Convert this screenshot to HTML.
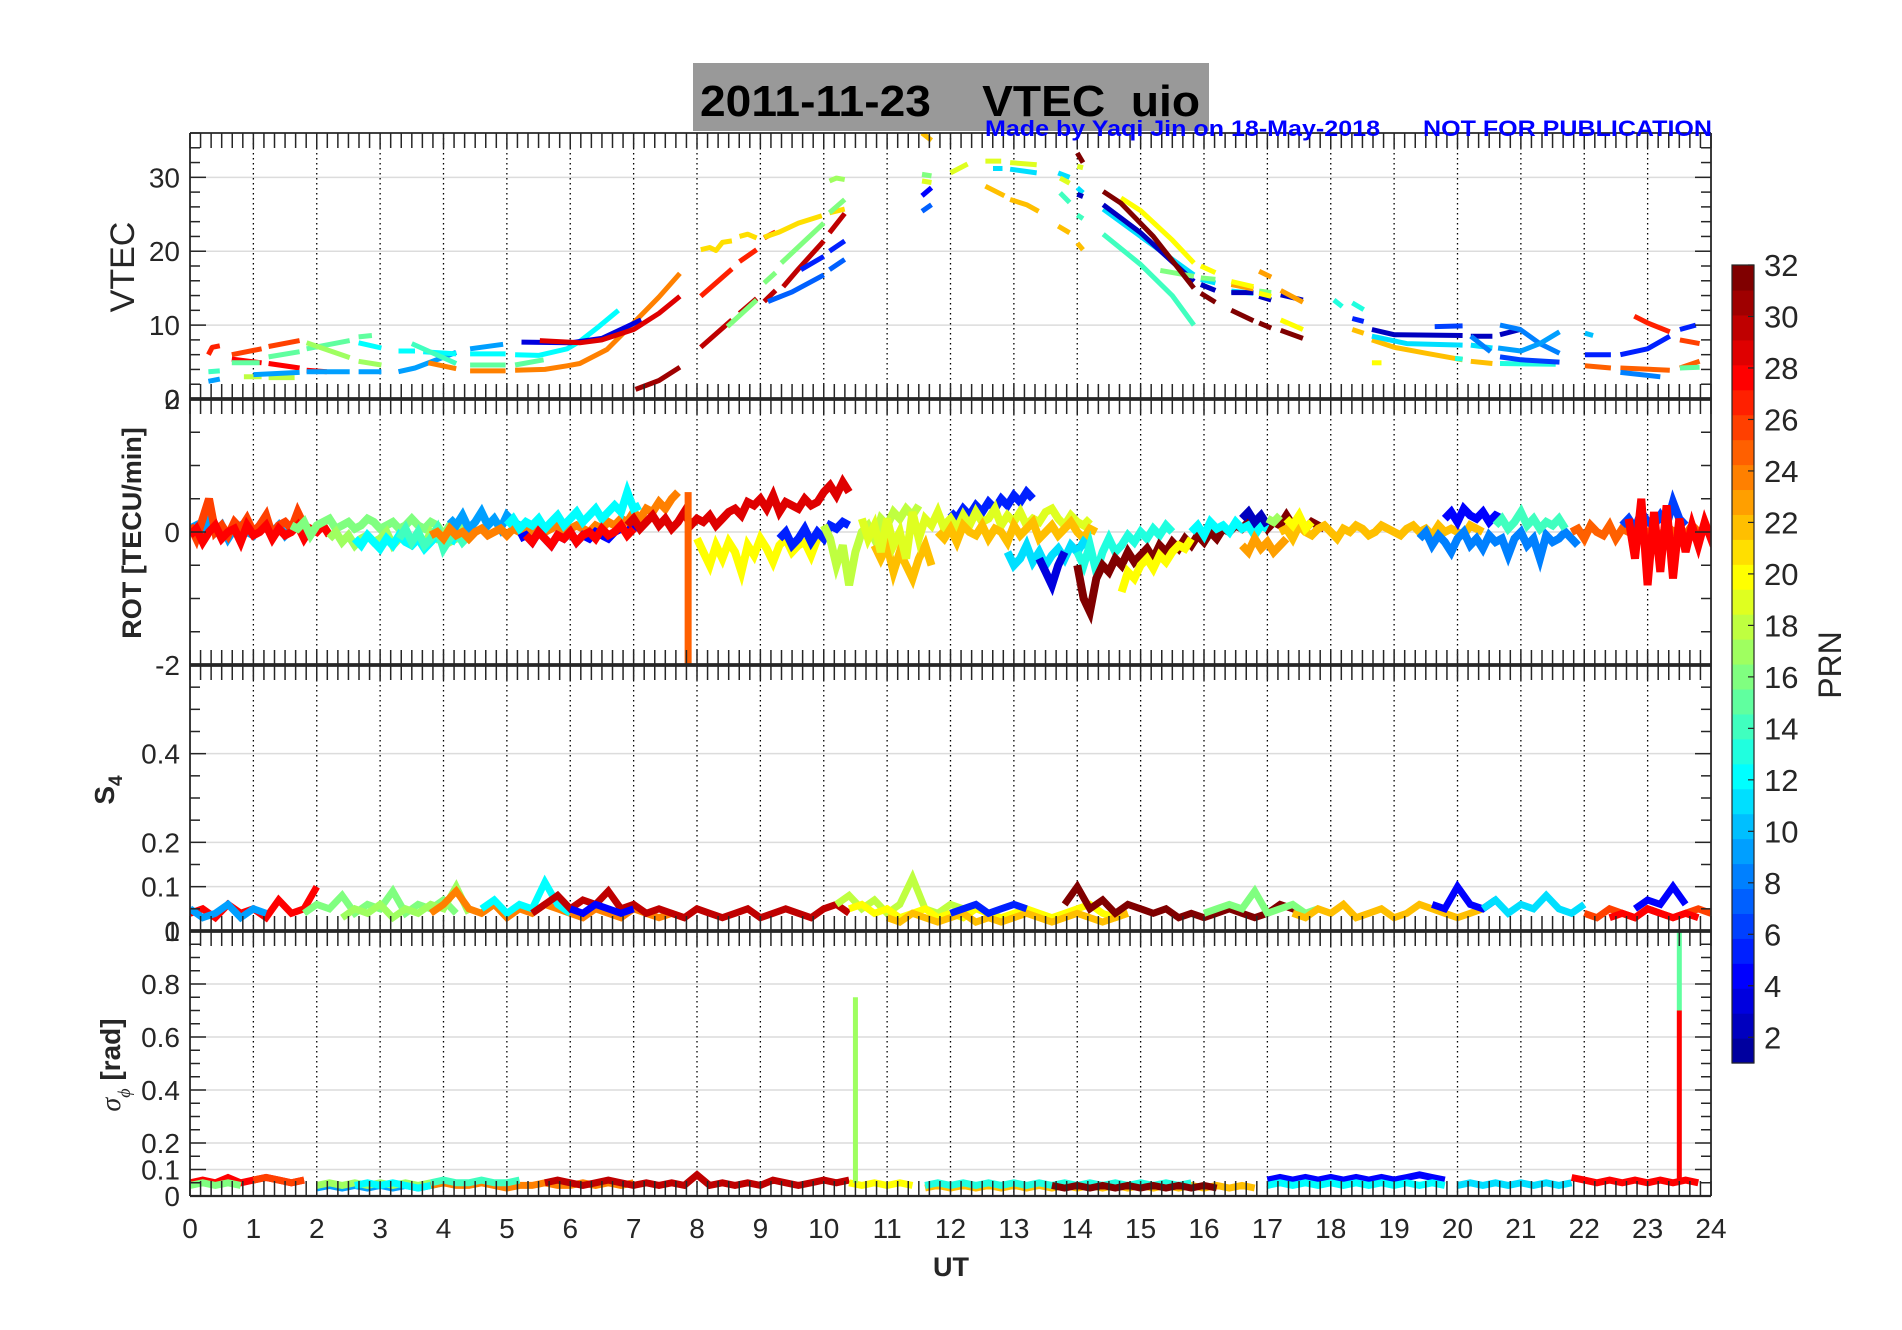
<!DOCTYPE html>
<html><head><meta charset="utf-8"><style>
html,body{margin:0;padding:0;background:#fff;}
svg{display:block;font-family:"Liberation Sans",Arial,sans-serif;}
</style></head><body>
<svg id="fig" width="1902" height="1330" viewBox="0 0 1902 1330" xmlns="http://www.w3.org/2000/svg">
<rect x="0" y="0" width="1902" height="1330" fill="#fff"/>
<g id="grid"></g>
<g id="marks"></g>
<g id="axes"></g>
<g id="labels"></g>
<rect x="693" y="63" width="516" height="68" fill="#999999"/>
<text x="700" y="116" font-size="44" font-weight="bold" fill="#000" textLength="500" lengthAdjust="spacingAndGlyphs" xml:space="preserve">2011-11-23    VTEC  uio</text>
<text x="985" y="136" font-size="22" font-weight="bold" fill="#0000ff" textLength="395" lengthAdjust="spacingAndGlyphs">Made by Yaqi Jin on 18-May-2018</text>
<text x="1423" y="136" font-size="22" font-weight="bold" fill="#0000ff" textLength="289" lengthAdjust="spacingAndGlyphs">NOT FOR PUBLICATION</text>
<g id="cbar"></g>
</svg>
<script>
// ---------- data ----------
const hourTicks = [0,1,2,3,4,5,6,7,8,9,10,11,12,13,14,15,16,17,18,19,20,21,22,23,24];
const cbarTicks = [2,4,6,8,10,12,14,16,18,20,22,24,26,28,30,32];

const vtecPrn = [27,26,26,28,28,28,15,15,15,15,17,17,18,18,9,14,9,9,9,9,9,12,12,12,12,12,14,24,24,24,15,15,3,29,31,27,27,27,30,30,30,30,30,21,21,21,21,16,16,16,16,17,5,5,7,7,22,16,19,4,7,19,19,19,11,11,11,11,22,22,22,22,14,14,19,19,32,2,14,11,11,11,2,2,2,2,2,16,16,16,16,23,23,23,20,20,20,20,20,32,32,32,32,32,13,13,5,22,22,22,20,11,11,2,2,2,6,13,13,8,8,9,6,10,5,5,5,27,26,25,25,25,8,15];
const vtecHours = [
[0.29,0.35,0.47],[0.66,1.13],[1.24,1.73],[0.66,1.13],[1.24,1.73],[1.84,2.16],[0.66,1.1],[1.24,1.73],[1.84,2.52],[2.66,2.87],
[1.84,2.52],[2.66,3.02],[0.85,1.13],[1.24,1.65],[0.29,0.47],[0.29,0.47],[1.0,1.73],[1.84,2.52],[2.66,3.02],[3.29,3.55,4.2],
[4.42,4.94],[2.66,3.02],[3.29,3.55],[3.68,4.2],[4.42,4.98],[5.13,5.5,5.95,6.15,6.45,6.76],[3.5,4.2],[3.76,4.2],[4.42,4.98],[5.13,5.6,5.95,6.15,6.58,7.0,7.4,7.73],
[4.42,4.98],[5.13,5.58],[5.23,6.0,6.5,7.12],[5.52,6.15,6.5,7.0,7.4,7.73],[7.03,7.4,7.73],[8.06,8.55],[8.67,8.94],[9.06,9.24],[8.06,8.55],[8.67,8.94],
[9.06,9.24],[9.36,9.6,10.0],[10.09,10.33],[8.06,8.2,8.3,8.4,8.55],[8.67,8.8,8.94],[9.06,9.3,9.6,9.97],[10.09,10.33],[8.48,8.94],[9.06,9.24],[9.33,10.0],
[10.09,10.33],[10.09,10.2,10.33],[9.64,10.0],[10.09,10.33],[9.12,9.5,10.0],[10.09,10.33],[11.55,11.7],[11.55,11.7],[11.55,11.7],[11.55,11.7],
[11.55,11.7],[12.0,12.27],[12.55,12.8],[12.94,13.36],[12.67,12.82],[12.94,13.36],[13.7,13.88],[14.0,14.09],[12.55,12.85],[12.94,13.2,13.39],
[13.7,13.88],[14.0,14.09],[13.73,13.88],[14.0,14.09],[13.73,13.88],[14.0,14.09],[14.0,14.09],[14.0,14.09],[14.41,15.0,15.5,15.84],[14.41,15.0,15.84],
[15.95,16.18],[16.43,16.78],[14.41,15.0,15.84],[15.95,16.18],[16.43,16.78],[16.87,17.06],[17.21,17.56],[15.31,15.84],[15.95,16.18],[16.43,16.78],
[16.87,17.06],[16.43,16.78],[16.87,17.06],[17.21,17.56],[14.69,15.0,15.5,15.84],[15.95,16.18],[16.43,16.78],[16.87,17.06],[17.21,17.56],[14.41,14.69,15.2,15.84],
[15.95,16.18],[16.43,16.78],[16.87,17.06],[17.21,17.56],[18.05,18.18],[18.34,18.52],[18.34,18.52],[18.34,18.52],[18.65,19.0,19.5,20.08],[20.21,20.55],
[18.65,18.8],[18.65,19.2,20.08],[20.21,20.55],[18.65,19.0,20.08],[20.21,20.55],[20.67,20.99],[19.64,20.08],[19.96,20.08],[20.67,21.55],[20.21,20.52],
[20.67,20.99,21.3,21.61],[20.64,21.0,21.3,21.61],[20.67,21.0,21.61],[22.01,22.14],[22.01,22.42],[22.57,23.0,23.35],[23.51,23.76],[22.79,23.0,23.35],[23.51,23.82],[22.01,22.42],
[22.57,23.35],[23.51,23.82],[22.57,23.2],[23.51,23.82]];
const vtecValues = [
[6,7,7.2],[6.0,6.8],[7.1,7.9],[5.4,4.9],[4.8,4.2],[3.9,3.7],[4.9,4.9],[5.7,6.4],[6.8,7.9],[8.4,8.6],
[7.6,5.6],[5.1,4.6],[3,3],[2.9,2.9],[2.4,2.7],[3.7,3.8],[3.3,3.6],[3.7,3.7],[3.7,3.7],[3.7,4.2,6.3],
[6.8,7.4],[7.6,6.9],[6.5,6.5],[6.4,6.1],[6.1,6.1],[6,5.9,6.8,7.8,9.8,12],[7.5,4.8],[4.9,4.1],[3.8,3.8],[3.9,4.0,4.5,4.8,6.7,10.3,13.8,17],
[4.6,4.6],[4.6,5.3],[7.7,7.6,8.2,10.7],[7.9,7.6,8.0,9.4,11.6,13.9],[1.3,2.5,4.3],[13.9,17.6],[18.6,20.2],[21.8,22.6],[7.0,10.7],[11.6,13.6],
[13.2,14.7],[15.2,17.6,21.4],[22.5,25.1],[20.2,20.5,20.1,21.2,21.4],[22.0,22.3,21.8],[21.9,22.6,23.8,24.8],[25.2,25.7],[9.8,13.4],[15.7,17.1],[18.4,23.8],
[25.2,27],[29.5,29.9,29.7],[17.5,19.3],[20,21.4],[13.2,14.5,16.8],[17.5,18.9],[36,35],[30.4,30.2],[29.5,29.3],[27.5,28.6],
[25.4,26.3],[30.6,31.8],[32.2,32.2],[32,31.7],[31.2,31.2],[31.1,30.6],[30.6,30],[28.6,27.9],[28.8,27.5],[27,26.3,25.4],
[23.4,22.5],[21.1,20.2],[27.9,26.6],[24.9,24.4],[29.9,29.2],[31.5,31.3],[33.3,32],[27.7,27.4],[22.3,18.2,14.0,10],[25.7,22.0,16.8],
[16.2,15.7],[14.6,14.3],[26.3,22.5,15.9],[15.5,14.7],[14.4,14.4],[13.9,13.4],[14.1,13.4],[17.4,16.6],[16.4,16.2],[15.5,15.2],
[14.6,14.4],[15.5,14.9],[17.3,16.5],[14.7,13.1],[27.2,25.5,21.5,18.4],[18,17.1],[15.9,15.2],[14.3,13.9],[10.7,9.4],[28.1,26.5,22,15],
[14.3,13.1],[12,10.6],[10.3,9.6],[9.3,8.2],[13.4,12.5],[13.0,12.1],[10.9,10.5],[9.4,8.9],[8.0,7.0,6.2,5.3],[5.1,4.8],
[4.9,4.9],[8.5,7.5,7.3],[7.3,6.9],[9.4,8.7,8.6],[8.5,8.5],[8.7,9.4],[9.8,9.9],[5.5,5.4],[4.8,4.7],[8.5,6.4],
[10.0,9.4,7.5,6.2],[6.9,6.5,7.5,9.1],[5.7,5.3,5.0],[8.9,8.6],[6,6],[6,6.8,8.5],[9.4,10],[11.2,10.3,9.1],[8,7.5],[4.5,4.2],
[4.2,3.9],[4.2,5.1],[3.6,3.0],[4.2,4.3]];

// ROT tracks (sample spacing rotStep hours)
const rotStep = 0.1;
const rotPrn = [9,26,28,16,17,12,14,9,24,12,4,28,29,20,5,18,22,19,5,19,22,11,3,13,32,20,12,2,23,17,22,20,4,8,14,25,6,28];
const rotStart = [0,0,0,1.6,2.2,2.6,3.3,4.1,3.8,5.0,5.2,5.3,6.9,8.0,9.3,10.0,10.8,10.6,12.0,11.9,11.8,12.9,13.4,14.0,14.0,14.7,15.8,16.6,16.6,17.0,17.2,17.3,19.8,19.4,20.6,21.8,22.6,22.7];
const rotValues = [
[0.05,0.1,-0.05,0.15,0,0.1,-0.1,0.05,0.1,0,-0.05,0.1,0.05,0,0.1,-0.05,0.05,0.1,0],
[0.1,-0.1,0.2,0.5,0,0.1,-0.05,0.15,0.05,0.2,0,0.1,0.25,-0.05,0.1,0.15,0.05,0.3,0.1],
[-0.05,0.05,-0.15,0,0.1,-0.1,0,0.05,-0.15,0.1,-0.05,0,0.1,-0.1,0.05,-0.05,0,0.1,-0.1,0.05,0,0.1,-0.05],
[0.1,0.05,0.15,-0.05,0.1,0.15,0.2,0.05,0.1,0.15,0.05,0.1,0.2,0.15,0.05,0.1,0.15,0.05,0.1,0.2,0.1,0.05,0.15,0.1,-0.05,0.1,0.05,0.15,0,0.1],
[-0.1,0,-0.15,-0.05,-0.2,-0.1,-0.05,-0.15,-0.1,0,-0.2,-0.1,-0.05,-0.15,-0.1,-0.2,0,-0.1,-0.05,-0.15,-0.1,0,-0.1],
[-0.1,-0.2,-0.05,-0.15,-0.25,-0.1,-0.2,-0.05,-0.15,-0.2,-0.1,-0.25,-0.15,-0.05,-0.2,-0.1,-0.15],
[-0.1,0.05,-0.15,0,-0.2,-0.1,0.05,-0.25,-0.1,0,-0.15,-0.05],
[0.2,0.1,0.25,0.05,0.15,0.3,0.1,0.2,0.05,0.25,0.15,0.1],
[-0.05,0,-0.1,0.05,-0.05,0,-0.1,0,0.05,-0.05,0,0.05,-0.05,0.05,0,0.1,-0.05,0.05,0,0.05,0.1,0,0.05,0.1,0.05,0,0.1,0.05,0.15,0.1,0.2,0.15,0.3,0.2,0.35,0.3,0.45,0.35,0.5,0.6],
[0.1,0.2,0.05,0.15,0.1,0.2,0.05,0.15,0.25,0.1,0.2,0.3,0.15,0.25,0.35,0.2,0.3,0.4,0.3,0.6,0.35,0.4],
[-0.1,-0.05,-0.15,0,-0.1,-0.2,-0.05,-0.1,0,-0.15,-0.05,-0.1,0,-0.05,-0.1,0,0.05,0,0.1,0.05],
[-0.05,-0.15,0,-0.1,-0.2,-0.05,-0.1,0,-0.15,-0.05,0,-0.1,0.05,-0.05,0,0.1,-0.05,0.05],
[0.1,0.2,0.05,0.15,0.25,0.1,0.2,0.05,0.15,0.3,0.1,0.2,0.15,0.25,0.1,0.2,0.3,0.35,0.25,0.45,0.4,0.5,0.35,0.55,0.3,0.45,0.4,0.35,0.5,0.4,0.45,0.6,0.7,0.55,0.75,0.6],
[-0.1,-0.3,-0.5,-0.2,-0.4,-0.15,-0.3,-0.6,-0.2,-0.35,-0.1,-0.25,-0.45,-0.2,-0.1,-0.3,-0.2,-0.15,-0.35,-0.1],
[-0.1,0,-0.2,-0.1,0.05,-0.15,0,-0.1,0.1,0.05,0.15,0.1],
[0.1,-0.1,-0.5,-0.2,-0.8,-0.3,0,0.1,-0.1,0.2,0.1,0.3,0.2,0.35,0.25,0.4],
[-0.2,-0.4,-0.2,-0.6,-0.3,-0.5,-0.7,-0.4,-0.2,-0.5],
[0.2,-0.1,0.1,-0.3,0.2,-0.2,0,-0.4,0.3,-0.1,0.2,0.1,0.3,0.05,0.2],
[0.3,0.2,0.35,0.25,0.4,0.3,0.45,0.35,0.5,0.4,0.55,0.45,0.6,0.5],
[0.1,0.2,0.05,0.25,0.1,0.3,0.15,0.2,0.35,0.1,0.25,0.15,0.3,0.1,0.2,0.15,0.3,0.35,0.2,0.1,0.25,0.15,0.1,0.2],
[0,-0.1,0.05,-0.15,0.1,0,-0.05,0.1,-0.1,0.05,0,-0.15,0.1,-0.05,0.05,0.15,-0.1,0,0.1,-0.05,0.05,0.15,0,-0.1,0.05,0],
[-0.3,-0.5,-0.4,-0.2,-0.45,-0.3,-0.5,-0.35,-0.25,-0.4,-0.2,-0.3,-0.15,-0.25],
[-0.4,-0.6,-0.8,-0.5,-0.3],
[-0.3,-0.5,-0.2,-0.6,-0.3,-0.1,-0.3,-0.2,-0.05,-0.15,0,-0.1,0.05,-0.05,0.1,0],
[-0.5,-1.0,-1.2,-0.7,-0.5,-0.6,-0.4,-0.5,-0.3,-0.45,-0.35,-0.25,-0.4,-0.2,-0.3,-0.15,-0.25,-0.1,-0.2,-0.05,-0.15,0,-0.1,0.05,0,0.1,0.05,0.15,0.1,0.2,0.05,0.15,0.1,0.25,0.1,0.2,0.05,0.15,0.1,0.05],
[-0.9,-0.6,-0.7,-0.5,-0.4,-0.55,-0.35,-0.45,-0.3,-0.2,-0.25,-0.1],
[0,0.1,-0.05,0.15,0.05,0.1,0,0.15,0.05,0.1,-0.05,0.1,0.05],
[0.2,0.3,0.15,0.25,0.1],
[-0.2,-0.3,-0.1,-0.25,-0.15,-0.3,-0.2,-0.1],
[0.2,0.15,0.25],
[0,0.05,-0.1,0.1,0,-0.05,0.05,0.1,0,-0.1,0.05,0,0.1,0.05,-0.05,0,0.1,0.05,0,-0.05,0.05,0.1,0,0.05,-0.05,0.1,0,0.05,0,-0.05,0.1,0.05,0],
[0.2,0.1,0.25,0.05,0.15],
[0.2,0.3,0.15,0.35,0.25,0.2,0.3,0.15,0.25,0.2],
[-0.1,0,-0.2,-0.05,-0.15,-0.3,-0.1,0,-0.2,-0.1,-0.25,-0.05,-0.15,-0.1,-0.35,-0.1,0,-0.2,-0.1,-0.4,-0.05,-0.15,-0.1,0,-0.1,-0.2],
[0.1,0.2,0.05,0.15,0.3,0.1,0.2,0.05,0.15,0.1,0.2,0.05],
[0,0.05,-0.1,0.1,0,-0.05,0.1,-0.1,0.05,0,0.1,-0.05,0,0.05,-0.1,0.1,0,0.05,-0.05,0.1,0,0.05,-0.05],
[0.1,0.2,0.05,0.3,0.15,0.1,0.25,0.1,0.45,0.2,0.1],
[0.2,-0.4,0.5,-0.8,0.3,-0.6,0.4,-0.7,0.2,-0.3,0.1,-0.2,0.15,-0.1,0.05,0.1,-0.1,0.05]];
const rotSpikePrn = [25];
const rotSpikeHour = [7.86];
const rotSpikeFrom = [0.6];
const rotSpikeTo = [-2.1];

// S4 tracks
const s4Step = 0.2;
const s4Prn = [28,9,16,17,24,12,30,4,18,20,22,5,32,16,22,4,11,26,4,28];
const s4Start = [0,0,1.8,2.4,3.8,4.6,5.4,6.0,10.2,10.4,11.0,12.0,13.8,16.0,17.4,19.6,20.4,22.0,22.8,22.4];
const s4Values = [
[0.04,0.05,0.03,0.06,0.04,0.05,0.03,0.07,0.04,0.05,0.1],
[0.05,0.03,0.04,0.06,0.03,0.05,0.04],
[0.04,0.06,0.05,0.08,0.04,0.06,0.05,0.09,0.04,0.06,0.05,0.07,0.04],
[0.03,0.05,0.04,0.06,0.03,0.05,0.04,0.06,0.05,0.1,0.04],
[0.04,0.06,0.09,0.05,0.04,0.06,0.03,0.05,0.04,0.06,0.05,0.04,0.03,0.05,0.04,0.03,0.05,0.04,0.03,0.04,0.03],
[0.05,0.07,0.04,0.06,0.05,0.11,0.06,0.04],
[0.04,0.06,0.08,0.05,0.07,0.06,0.09,0.05,0.06,0.04,0.05,0.04,0.03,0.05,0.04,0.03,0.04,0.05,0.03,0.04,0.05,0.04,0.03,0.05,0.06,0.04],
[0.05,0.04,0.06,0.05,0.04,0.05],
[0.06,0.08,0.05,0.07,0.04,0.06,0.12,0.05,0.04,0.06,0.05],
[0.05,0.06,0.04,0.05,0.03,0.04,0.05,0.03,0.04,0.03,0.05,0.04,0.03,0.04,0.05,0.04,0.03,0.04,0.05,0.06,0.04,0.03,0.04],
[0.03,0.02,0.04,0.03,0.02,0.03,0.04,0.02,0.03,0.02,0.03,0.04,0.03,0.02,0.03,0.04,0.03,0.02,0.03,0.04],
[0.04,0.05,0.06,0.04,0.05,0.06,0.05],
[0.06,0.1,0.05,0.07,0.04,0.06,0.05,0.04,0.05,0.03,0.04,0.03,0.04,0.05,0.04,0.03,0.04,0.06,0.05,0.04],
[0.04,0.05,0.06,0.05,0.09,0.04,0.05,0.06,0.04,0.05],
[0.04,0.03,0.05,0.04,0.06,0.03,0.04,0.05,0.03,0.04,0.06,0.05,0.04,0.03,0.04,0.05],
[0.06,0.05,0.1,0.06,0.05,0.07],
[0.05,0.07,0.04,0.06,0.05,0.08,0.05,0.04,0.06],
[0.04,0.03,0.05,0.04,0.03,0.05,0.04,0.03,0.04,0.05,0.04],
[0.05,0.07,0.06,0.1,0.06],
[0.03,0.04,0.03,0.05,0.04,0.03,0.04,0.03]];

// sigma-phi tracks
const sigStep = 0.2;
const sigPrn = [28,16,26,9,17,12,24,14,30,20,22,13,32,4,12,11,28];
const sigStart = [0,0,1.0,2.0,2.0,2.6,3.8,3.8,5.6,10.4,11.6,11.6,13.6,17.0,17.0,20.0,21.8];
const sigValues = [
[0.05,0.06,0.05,0.07,0.05,0.06,0.07,0.06,0.05,0.06],
[0.04,0.05,0.04,0.05,0.04],
[0.06,0.07,0.06,0.05,0.06],
[0.03,0.04,0.03,0.04,0.03,0.04,0.03,0.04,0.03,0.04],
[0.04,0.05,0.04,0.05,0.04,0.05,0.04,0.05,0.04,0.05],
[0.04,0.05,0.04,0.05,0.04,0.03,0.04,0.05],
[0.04,0.05,0.04,0.04,0.05,0.04,0.03,0.04,0.04,0.05,0.04,0.04,0.05,0.04,0.05,0.04,0.05],
[0.05,0.06,0.05,0.05,0.06,0.05,0.05,0.06],
[0.05,0.06,0.05,0.04,0.05,0.06,0.05,0.04,0.05,0.04,0.05,0.04,0.08,0.04,0.05,0.04,0.05,0.04,0.06,0.05,0.04,0.05,0.06,0.05,0.06],
[0.05,0.04,0.05,0.04,0.05,0.04],
[0.03,0.04,0.03,0.04,0.03,0.04,0.03,0.04,0.03,0.04,0.03,0.04,0.03,0.04,0.03,0.04,0.03,0.04,0.03,0.04,0.03,0.04,0.03,0.04,0.03,0.04,0.03],
[0.04,0.05,0.04,0.05,0.04,0.05,0.04,0.05,0.04,0.05,0.04,0.05,0.04,0.05,0.04,0.05,0.04,0.05,0.04,0.05,0.04,0.05],
[0.04,0.03,0.04,0.03,0.04,0.03,0.04,0.03,0.04,0.03,0.04,0.03,0.04,0.03],
[0.06,0.07,0.06,0.07,0.06,0.07,0.06,0.07,0.06,0.07,0.06,0.07,0.08,0.07,0.06],
[0.04,0.05,0.04,0.05,0.04,0.05,0.04,0.05,0.04,0.05,0.04,0.05,0.04,0.05,0.04],
[0.04,0.05,0.04,0.05,0.04,0.05,0.04,0.05,0.04,0.05],
[0.07,0.06,0.05,0.06,0.05,0.06,0.05,0.06,0.05,0.06,0.05]];
const sigSpikePrn = [17,28,15];
const sigSpikeHour = [10.5,23.5,23.5];
const sigSpikeFrom = [0.05,0.05,0.7];
const sigSpikeTo = [0.75,0.7,1.0];

// ---------- layout ----------
const NS = "http://www.w3.org/2000/svg";
const X0 = 190, X1 = 1711;
const xs = h => X0 + h * (X1 - X0) / 24;
const panels = [
  {top:133, bot:399, min:0, max:36, minor:2, labels:[0,10,20,30], grid:[10,20,30], name:'vtec'},
  {top:399, bot:665, min:-2, max:2, minor:0.5, labels:[-2,0,2], grid:[0], name:'rot'},
  {top:665, bot:931, min:0, max:0.6, minor:0.05, labels:[0,0.1,0.2,0.4], grid:[0.1,0.2,0.4], name:'s4'},
  {top:931, bot:1196, min:0, max:1, minor:0.05, labels:[0,0.1,0.2,0.4,0.6,0.8,1], grid:[0.1,0.2,0.4,0.6,0.8], name:'sigma'}
];
const ys = (p, v) => p.bot - (v - p.min) / (p.max - p.min) * (p.bot - p.top);

// MATLAB jet(32)
function jet(p){
  let r, g, b;
  r = p <= 12 ? 0 : p <= 20 ? (p - 12) / 8 : p <= 28 ? 1 : (36 - p) / 8;
  g = p <= 4 ? 0 : p <= 12 ? (p - 4) / 8 : p <= 20 ? 1 : p <= 27 ? (28 - p) / 8 : 0;
  b = p <= 3 ? (p + 4) / 8 : p <= 12 ? 1 : p <= 19 ? (20 - p) / 8 : 0;
  const c = v => Math.round(255 * v);
  return `rgb(${c(r)},${c(g)},${c(b)})`;
}
function mk(tag, attrs, parent){
  const e = document.createElementNS(NS, tag);
  for (const k in attrs) e.setAttribute(k, attrs[k]);
  parent.appendChild(e);
  return e;
}
const gGrid = document.getElementById('grid');
const gMarks = document.getElementById('marks');
const gAxes = document.getElementById('axes');
const gLab = document.getElementById('labels');
const defs = mk('defs', {}, document.getElementById('fig'));

panels.forEach((p, i) => {
  const cp = mk('clipPath', {id:'clip' + i}, defs);
  mk('rect', {x:X0, y:p.top, width:X1 - X0, height:p.bot - p.top}, cp);
  p.grid.forEach(v => {
    const l = mk('line', {x1:X0, x2:X1, y1:ys(p, v), y2:ys(p, v), stroke:'#dcdcdc', 'stroke-width':1.5}, gGrid);
    
    
  });
  for (let h = 1; h < 24; h++) {
    const l = mk('line', {x1:xs(h), x2:xs(h), y1:p.top, y2:p.bot, stroke:'#000', 'stroke-width':1.3, 'stroke-dasharray':'1.5 3.5'}, gGrid);
    
    
  }
  for (let k = 0; k <= 144; k++) {
    const x = xs(k / 6);
    mk('line', {x1:x, x2:x, y1:p.top, y2:p.top + 15, stroke:'#262626', 'stroke-width':1.5}, gAxes);
    mk('line', {x1:x, x2:x, y1:p.bot, y2:p.bot - 15, stroke:'#262626', 'stroke-width':1.5}, gAxes);
  }
  const n = Math.round((p.max - p.min) / p.minor);
  for (let k = 0; k <= n; k++) {
    const v = p.min + k * p.minor;
    const y = ys(p, v);
    const major = p.labels.some(l => Math.abs(l - v) < 1e-6);
    const len = major ? 16 : 10;
    mk('line', {x1:X0, x2:X0 + len, y1:y, y2:y, stroke:'#262626', 'stroke-width':1.5}, gAxes);
    mk('line', {x1:X1, x2:X1 - len, y1:y, y2:y, stroke:'#262626', 'stroke-width':1.5}, gAxes);
  }
  p.labels.forEach(v => {
    const t = mk('text', {x:180, y:ys(p, v) + 10, 'font-size':28, fill:'#262626', 'text-anchor':'end'}, gLab);
    
    
    t.textContent = String(v);
  });
  mk('line', {x1:X0, x2:X0, y1:p.top, y2:p.bot, stroke:'#262626', 'stroke-width':1.8}, gAxes);
  mk('line', {x1:X1, x2:X1, y1:p.top, y2:p.bot, stroke:'#262626', 'stroke-width':1.8}, gAxes);
  mk('line', {x1:X0, x2:X1, y1:p.top, y2:p.top, stroke:'#262626', 'stroke-width':i === 0 ? 1.8 : 3.5}, gAxes);
  mk('line', {x1:X0, x2:X1, y1:p.bot, y2:p.bot, stroke:'#262626', 'stroke-width':i === 3 ? 2.2 : 3.5}, gAxes);
});

function panelGroup(i, name){
  const g = mk('g', {'clip-path':'url(#clip' + i + ')'}, gMarks);
  
  
  return g;
}
const gV = panelGroup(0, 'vtec-series');
vtecPrn.forEach((prn, i) => {
  const pts = vtecHours[i].map((h, j) => xs(h).toFixed(1) + ',' + ys(panels[0], vtecValues[i][j]).toFixed(1)).join(' ');
  const l = mk('polyline', {points:pts, fill:'none', stroke:jet(prn), 'stroke-width':5, 'stroke-linecap':'butt', 'stroke-linejoin':'round'}, gV);
  
  
});
function drawTracks(pi, prns, starts, vals, step, name, sw){
  const g = panelGroup(pi, name + '-series');
  prns.forEach((prn, i) => {
    const pts = vals[i].map((v, j) => xs(starts[i] + j * step).toFixed(1) + ',' + ys(panels[pi], v).toFixed(1)).join(' ');
    const l = mk('polyline', {points:pts, fill:'none', stroke:jet(prn), 'stroke-width':sw, 'stroke-linejoin':'miter'}, g);
    
    
  });
  return g;
}
function drawSpikes(pi, g, prns, hrs, from, to, name, w){
  prns.forEach((prn, i) => {
    const y1 = ys(panels[pi], from[i]), y2 = ys(panels[pi], to[i]);
    const r = mk('rect', {x:xs(hrs[i]) - w/2, y:Math.min(y1, y2), width:w, height:Math.abs(y2 - y1), fill:jet(prn)}, g);
    
    
  });
}
const gR = drawTracks(1, rotPrn, rotStart, rotValues, rotStep, 'rot', 8);
drawSpikes(1, gR, rotSpikePrn, rotSpikeHour, rotSpikeFrom, rotSpikeTo, 'rot', 7);
drawTracks(2, s4Prn, s4Start, s4Values, s4Step, 's4', 7);
const gS = drawTracks(3, sigPrn, sigStart, sigValues, sigStep, 'sigma', 7);
drawSpikes(3, gS, sigSpikePrn, sigSpikeHour, sigSpikeFrom, sigSpikeTo, 'sigma', 5);

hourTicks.forEach(h => {
  const t = mk('text', {x:xs(h), y:1238, 'font-size':28, fill:'#262626', 'text-anchor':'middle'}, gLab);
  
  
  t.textContent = String(h);
});
</script>
<svg style="position:absolute;left:0;top:0" width="1902" height="1330">
<text x="951" y="1276" font-size="27" font-weight="bold" fill="#262626" text-anchor="middle" font-family="Liberation Sans, sans-serif">UT</text>
<text transform="translate(134,267) rotate(-90)" font-size="34" fill="#262626" text-anchor="middle" font-family="Liberation Sans, sans-serif">VTEC</text>
<text transform="translate(141,533) rotate(-90)" font-size="27" font-weight="bold" fill="#262626" text-anchor="middle" font-family="Liberation Sans, sans-serif">ROT [TECU/min]</text>
<text transform="translate(114,790) rotate(-90)" font-size="28" font-weight="bold" fill="#262626" text-anchor="middle" font-family="Liberation Sans, sans-serif">S<tspan font-size="19" dy="8">4</tspan></text>
<text transform="translate(120,1065) rotate(-90)" font-size="28" font-weight="bold" fill="#262626" text-anchor="middle" font-family="Liberation Sans, sans-serif"><tspan font-weight="normal" font-style="italic" font-family="Liberation Serif, serif">σ</tspan><tspan font-size="18" dy="10" font-weight="normal" font-style="italic" font-family="Liberation Serif, serif">ϕ</tspan><tspan dy="-10"> [rad]</tspan></text>
</svg>
<script>
const cb = document.getElementById('cbar');


const CBT = 265, CBB = 1063, CBL = 1732, CBR = 1754;
for (let p = 1; p <= 32; p++) {
  const h = (CBB - CBT) / 32;
  const r = mk('rect', {x:CBL, y:CBB - p * h, width:CBR - CBL, height:h + 0.6, fill:jet(p)}, cb);
  
  
}
mk('rect', {x:CBL, y:CBT, width:CBR - CBL, height:CBB - CBT, fill:'none', stroke:'#262626', 'stroke-width':1.2}, cb);
cbarTicks.forEach(p => {
  const y = CBB - (p - 1) * (CBB - CBT) / 31;
  mk('line', {x1:CBR - 6, x2:CBR, y1:y, y2:y, stroke:'#262626', 'stroke-width':1.2}, cb);
  const t = mk('text', {x:1764, y:y + 11, 'font-size':31, fill:'#262626'}, cb);
  
  
  t.textContent = String(p);
});
const pt = mk('text', {transform:'translate(1841,665) rotate(-90)', 'font-size':32, fill:'#262626', 'text-anchor':'middle'}, cb);


pt.textContent = 'PRN';
</script>
</body></html>
